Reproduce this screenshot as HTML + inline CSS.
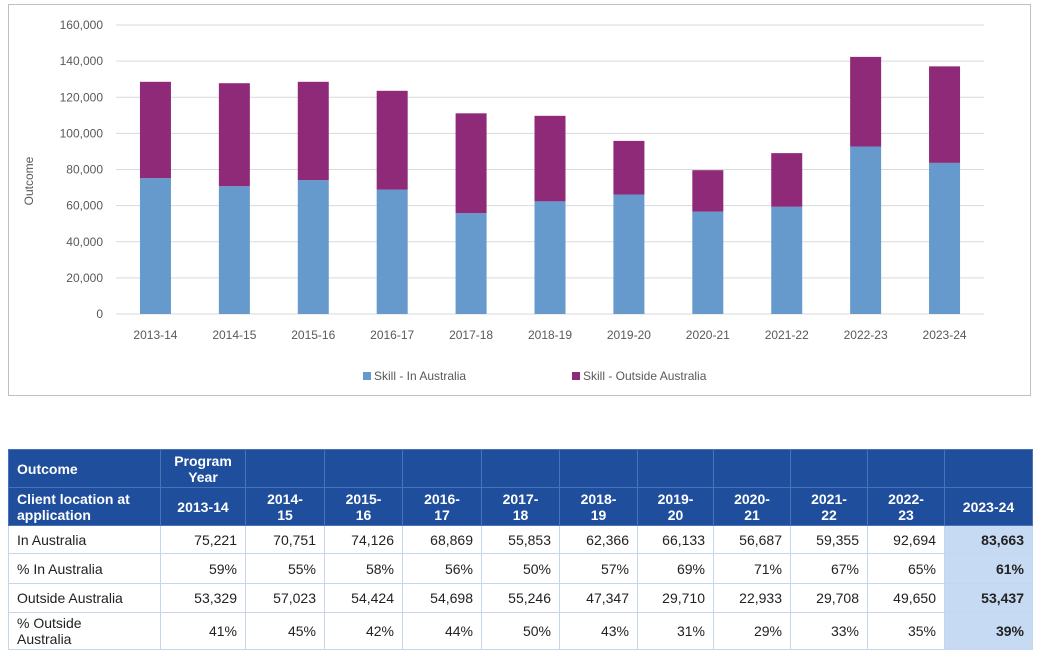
<!DOCTYPE html>
<html><head><meta charset="utf-8"><style>
body{margin:0;width:1040px;height:650px;background:#fff;font-family:"Liberation Sans",sans-serif;position:relative;overflow:hidden}
#frame{position:absolute;left:8px;top:4px;width:1023px;height:392px;border:1px solid #bfbfbf;box-sizing:border-box}
svg{position:absolute;left:0;top:0}
table{position:absolute;left:8px;top:449px;width:1024px;border-collapse:collapse;table-layout:fixed;font-size:14px;color:#222}
td{border:1px solid #c5d5ea;padding:0 8px;text-align:right;white-space:nowrap;overflow:hidden}
tr.h td{background:#1f4e9c;color:#fff;font-weight:bold;text-align:center;border-color:#4a72b8;line-height:16px}
tr.h td.l,td.l{text-align:left}
td.hl{background:#c6dbf3;font-weight:bold}
</style></head><body>
<div id="frame"></div>
<svg id="chart" width="1040" height="400"></svg>
<table>
<colgroup><col style="width:152px"><col style="width:85px"><col style="width:79px"><col style="width:78px"><col style="width:79px"><col style="width:78px"><col style="width:78px"><col style="width:76px"><col style="width:77px"><col style="width:77px"><col style="width:77px"><col style="width:88px"></colgroup>
<tr class="h" style="height:38px"><td class="l">Outcome</td><td>Program<br>Year</td><td></td><td></td><td></td><td></td><td></td><td></td><td></td><td></td><td></td><td></td></tr>
<tr class="h" style="height:38px"><td class="l">Client location at<br>application</td><td>2013-14</td><td>2014-<br>15</td><td>2015-<br>16</td><td>2016-<br>17</td><td>2017-<br>18</td><td>2018-<br>19</td><td>2019-<br>20</td><td>2020-<br>21</td><td>2021-<br>22</td><td>2022-<br>23</td><td>2023-24</td></tr>
<tr style="height:28px"><td class="l">In Australia</td><td>75,221</td><td>70,751</td><td>74,126</td><td>68,869</td><td>55,853</td><td>62,366</td><td>66,133</td><td>56,687</td><td>59,355</td><td>92,694</td><td class="hl">83,663</td></tr>
<tr style="height:30px"><td class="l">% In Australia</td><td>59%</td><td>55%</td><td>58%</td><td>56%</td><td>50%</td><td>57%</td><td>69%</td><td>71%</td><td>67%</td><td>65%</td><td class="hl">61%</td></tr>
<tr style="height:29px"><td class="l">Outside Australia</td><td>53,329</td><td>57,023</td><td>54,424</td><td>54,698</td><td>55,246</td><td>47,347</td><td>29,710</td><td>22,933</td><td>29,708</td><td>49,650</td><td class="hl">53,437</td></tr>
<tr style="height:37px"><td class="l" style="line-height:16px">% Outside<br>Australia</td><td>41%</td><td>45%</td><td>42%</td><td>44%</td><td>50%</td><td>43%</td><td>31%</td><td>29%</td><td>33%</td><td>35%</td><td class="hl">39%</td></tr>
</table>
<script>
const categories=["2013-14","2014-15","2015-16","2016-17","2017-18","2018-19","2019-20","2020-21","2021-22","2022-23","2023-24"];
const inAustralia=[75221,70751,74126,68869,55853,62366,66133,56687,59355,92694,83663];
const outsideAustralia=[53329,57023,54424,54698,55246,47347,29710,22933,29708,49650,53437];
const yTicks=[0,20000,40000,60000,80000,100000,120000,140000,160000];
const NS="http://www.w3.org/2000/svg";
const svg=document.getElementById('chart');
const X0=116,X1=984,Y0=314,Y1=25,YMAX=160000;
const step=(X1-X0)/categories.length;
const y=v=>Y0-(v/YMAX)*(Y0-Y1);
const xc=i=>X0+step*(i+0.5);
function mk(t,a){const e=document.createElementNS(NS,t);for(const k in a)e.setAttribute(k,a[k]);svg.appendChild(e);return e;}
yTicks.forEach(v=>{
  const g=mk('line',{x1:X0,x2:X1,y1:y(v),y2:y(v),stroke:'#d9d9d9','stroke-width':1});
  
  
  const t=mk('text',{x:103,y:y(v)+4,'text-anchor':'end','font-size':12,fill:'#595959','font-family':'Liberation Sans, sans-serif'});
  t.textContent=v.toLocaleString('en-US');
  
  
});
const BW=31;
categories.forEach((c,i)=>{
  const b1=mk('rect',{x:xc(i)-BW/2,y:y(inAustralia[i]),width:BW,height:Y0-y(inAustralia[i]),fill:'#6699cc'});
  
  
  const top=inAustralia[i]+outsideAustralia[i];
  const b2=mk('rect',{x:xc(i)-BW/2,y:y(top),width:BW,height:y(inAustralia[i])-y(top),fill:'#8e2a78'});
  
  
  const t=mk('text',{x:xc(i),y:339,'text-anchor':'middle','font-size':12,fill:'#595959','font-family':'Liberation Sans, sans-serif'});
  t.textContent=c;
  
  
});
const at=mk('text',{x:0,y:0,transform:'translate(33,181) rotate(-90)','text-anchor':'middle','font-size':12,fill:'#595959','font-family':'Liberation Sans, sans-serif'});
at.textContent='Outcome';


[[363,'#6699cc','Skill - In Australia'],[572,'#8e2a78','Skill - Outside Australia']].forEach(([lx,col,lab])=>{
  const r=mk('rect',{x:lx,y:372,width:8,height:8,fill:col});
  
  
  const t=mk('text',{x:lx+11,y:380,'font-size':12,fill:'#595959','font-family':'Liberation Sans, sans-serif'});
  t.textContent=lab;
  
  
});
</script>
</body></html>
